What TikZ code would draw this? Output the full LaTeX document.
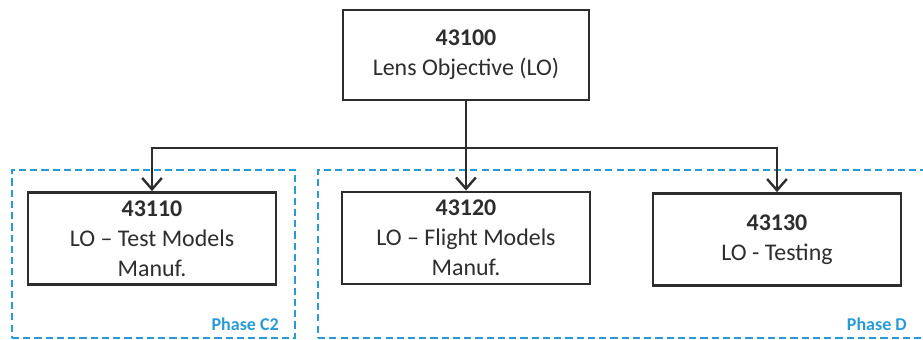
\documentclass[tikz,border=0pt]{standalone}
\usepackage{fontspec}
\setmainfont{Carlito}
\usepackage{tikz}
\usetikzlibrary{arrows.meta, positioning}
\definecolor{boxcolor}{RGB}{45,45,45}
\definecolor{phasecolor}{RGB}{40,155,215}
\tikzset{
  wpbox/.style={draw=boxcolor, line width=2pt, fill=white,
                minimum width=6.2cm, minimum height=2.3cm, align=center,
                text=boxcolor, font=\fontsize{17}{21.5}\selectfont},
  phasebox/.style={draw=phasecolor, line width=1.2pt,
                   dash pattern=on 5pt off 3pt, inner sep=0pt},
  phaselabel/.style={font=\fontsize{12.8}{15}\selectfont\bfseries,
                     text=phasecolor, anchor=south east, inner sep=0pt},
  tree/.style={draw=boxcolor, line width=1.7pt},
  arrow/.style={tree, -{Straight Barb[length=8pt, width=14pt, line width=1.7pt]}},
}
\begin{document}
\begin{tikzpicture}[x=0.025cm, y=-0.025cm]
  \useasboundingbox (0,0) rectangle (923,340);

  % Phases
  \node[phasebox, minimum width=283*0.025cm, minimum height=168*0.025cm]
    (phasec2) at (153.5,254) {};
  \node[phasebox, minimum width=620*0.025cm, minimum height=168*0.025cm]
    (phased) at (628,254) {};
  \node[phaselabel] (c2label) at (279,331) {Phase C2};
  \node[phaselabel] (dlabel) at (907,331) {Phase D};

  % Work packages
  \node[wpbox, minimum width=246*0.025cm, minimum height=90*0.025cm]
    (lo) at (466,55) {\textbf{43100}\\Lens Objective (LO)};
  \node[wpbox] (lotest) at (152,238.5) {\textbf{43110}\\LO -- Test Models\\Manuf.};
  \node[wpbox] (loflight) at (466,238) {\textbf{43120}\\LO -- Flight Models\\Manuf.};
  \node[wpbox] (lotesting) at (777,239.5) {\textbf{43130}\\LO - Testing};

  % Breakdown
  \coordinate (split) at (466,148);
  \draw[tree] (lo.south) -- (split);
  \draw[arrow] (split) -| (lotest.north);
  \draw[arrow] (split) -- (loflight.north);
  \draw[arrow] (split) -| (lotesting.north);

\end{tikzpicture}
\end{document}
